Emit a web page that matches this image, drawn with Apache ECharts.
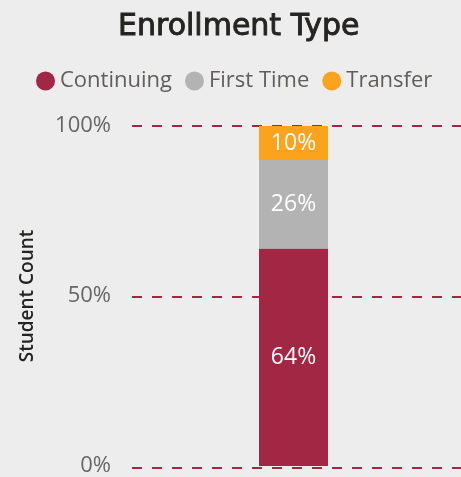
<!DOCTYPE html>
<html>
<head>
<meta charset="utf-8">
<script src="https://cdn.jsdelivr.net/npm/echarts@6/dist/echarts.min.js"></script>
<style>
  html, body { margin: 0; padding: 0; background: #ecedec; }
  #chart { width: 461px; height: 477px; }
</style>
</head>
<body>
<div id="chart"></div>
<script>
const categories = ['Enrollment'];
const seriesNames = ['Continuing', 'First Time', 'Transfer'];
const continuing = [64];
const firstTime = [26];
const transfer = [10];
const yTicks = [0, 50, 100];

const colors = ['#a12744', '#b3b3b3', '#fca31e'];
const font = '"Open Sans", "Noto Sans", sans-serif';

const chart = echarts.init(document.getElementById('chart'), null, { renderer: 'canvas' });

function bar(name, data, color) {
  return {
    name: name,
    type: 'bar',
    stack: 'total',
    data: data,
    barWidth: 69,
    itemStyle: { color: color },
    label: {
      show: true,
      position: 'inside',
      color: '#ffffff',
      fontFamily: font,
      fontSize: 23,
      formatter: '{c}%',
    },
  };
}

chart.setOption({
  backgroundColor: '#ecedec',
  animation: false,
  color: colors,
  title: {
    text: 'Enrollment Type',
    left: 113,
    top: 7,
    textStyle: {
      fontFamily: '"DejaVu Sans", sans-serif',
      fontWeight: 'normal',
      fontSize: 30,
      color: '#252423',
      textBorderColor: '#252423',
      textBorderWidth: 0.9,
    },
  },
  legend: {
    top: 65,
    left: 31,
    icon: 'circle',
    itemWidth: 19,
    itemHeight: 19,
    itemGap: 13,
    data: seriesNames,
    textStyle: {
      fontFamily: font,
      fontSize: 22,
      color: '#605e5c',
    },
  },
  grid: [
    { left: 132, right: 6, top: 126, bottom: 9 },
    { left: 132, right: 0, top: 126, bottom: 9 },
  ],
  xAxis: [
    {
      type: 'category',
      gridIndex: 0,
      data: categories,
      axisLine: { show: false },
      axisTick: { show: false },
      axisLabel: { show: false },
    },
    {
      type: 'category',
      gridIndex: 1,
      data: categories,
      show: false,
    },
  ],
  yAxis: [
    {
      type: 'value',
      gridIndex: 0,
      min: yTicks[0],
      max: yTicks[yTicks.length - 1],
      interval: 50,
      name: 'Student Count',
      nameLocation: 'middle',
      nameRotate: 90,
      nameGap: 95,
      nameTextStyle: {
        fontFamily: font,
        fontSize: 19,
        fontWeight: 600,
        color: '#252423',
      },
      axisLabel: {
        margin: 21,
        fontFamily: font,
        fontSize: 22,
        color: '#666666',
        formatter: '{value}%',
      },
      splitLine: { show: false },
    },
    {
      type: 'value',
      gridIndex: 1,
      min: yTicks[0],
      max: yTicks[yTicks.length - 1],
      interval: 50,
      axisLabel: { show: false },
      splitLine: {
        show: true,
        lineStyle: { color: '#a12744', width: 2, type: [10, 10] },
      },
    },
  ],
  series: [
    bar(seriesNames[0], continuing, colors[0]),
    bar(seriesNames[1], firstTime, colors[1]),
    bar(seriesNames[2], transfer, colors[2]),
  ],
});
</script>
</body>
</html>
